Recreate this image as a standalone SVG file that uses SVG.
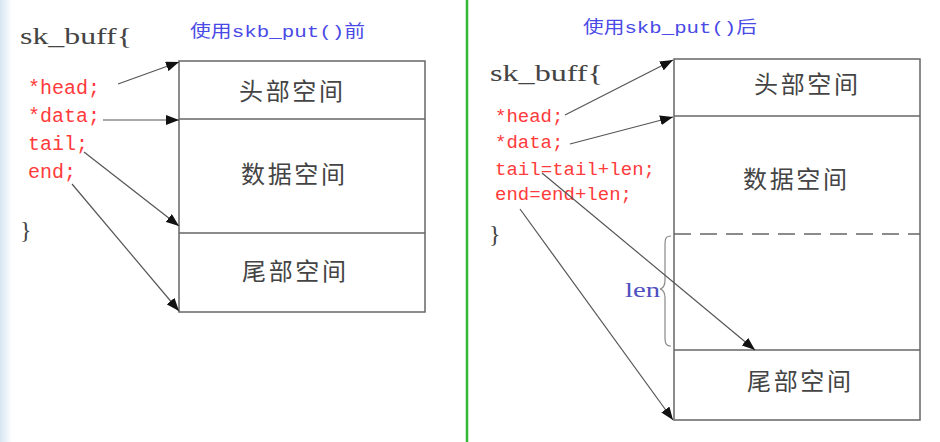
<svg xmlns="http://www.w3.org/2000/svg" width="940" height="442" viewBox="0 0 940 442">
<defs>
<linearGradient id="edge" x1="0" y1="0" x2="1" y2="0">
<stop offset="0" stop-color="#d6e6f2"/>
<stop offset="1" stop-color="#ffffff"/>
</linearGradient>
<marker id="ah" markerUnits="userSpaceOnUse" markerWidth="14" markerHeight="10" refX="13" refY="5" orient="auto">
<path d="M0,0 L13,5 L0,10 z" fill="#111"/>
</marker>
<style>
.box{fill:#fff;stroke:#666;stroke-width:1.5}
.div{stroke:#666;stroke-width:1.5;fill:none}
.dash{stroke:#666;stroke-width:1.5;stroke-dasharray:17 9;fill:none}
.lbl{font-family:"Noto Sans CJK SC",sans-serif;font-size:24px;fill:#444}
.code{font-family:"Liberation Mono","DejaVu Sans Mono",monospace;fill:#ff3b3b}
.struct{font-family:"Liberation Serif",serif;font-size:24px;fill:#444}
.title{font-family:"Liberation Mono","Noto Sans CJK SC",monospace;font-size:17px;fill:#4a4ae6}
.conn line{stroke:#555;stroke-width:1.2;marker-end:url(#ah)}
</style>
</defs>
<rect x="0" y="0" width="940" height="442" fill="#fff"/>
<rect x="0" y="0" width="12" height="442" fill="url(#edge)"/>
<line x1="467" y1="0" x2="467" y2="442" stroke="#33b833" stroke-width="2.5"/>

<g id="left-panel">
<text class="title" x="190" y="37" textLength="175" lengthAdjust="spacingAndGlyphs">使用skb_put()前</text>
<text class="struct" x="20" y="44" textLength="112" lengthAdjust="spacingAndGlyphs">sk_buff{</text>
<text class="code" x="28" y="94" font-size="20">*head;</text>
<text class="code" x="28" y="122" font-size="20">*data;</text>
<text class="code" x="28" y="150" font-size="20">tail;</text>
<text class="code" x="28" y="178" font-size="20">end;</text>
<text class="struct" x="20" y="238">}</text>
</g>

<g id="left-buffer">
<rect class="box" x="179" y="61" width="246" height="251"/>
<line class="div" x1="179" y1="119" x2="425" y2="119"/>
<line class="div" x1="179" y1="233" x2="425" y2="233"/>
<text class="lbl" x="239" y="100" textLength="104" lengthAdjust="spacing">头部空间</text>
<text class="lbl" x="241" y="183" textLength="104" lengthAdjust="spacing">数据空间</text>
<text class="lbl" x="242" y="280" textLength="104" lengthAdjust="spacing">尾部空间</text>
</g>

<g id="right-panel">
<text class="title" x="583" y="33" textLength="174" lengthAdjust="spacingAndGlyphs">使用skb_put()后</text>
<text class="struct" x="490" y="81" textLength="113" lengthAdjust="spacingAndGlyphs">sk_buff{</text>
<text class="code" x="495" y="122" font-size="19">*head;</text>
<text class="code" x="495" y="148" font-size="19">*data;</text>
<text class="code" x="495" y="175" font-size="19" textLength="160" lengthAdjust="spacing">tail=tail+len;</text>
<text class="code" x="495" y="200" font-size="19" textLength="137" lengthAdjust="spacing">end=end+len;</text>
<text class="struct" x="489" y="242">}</text>
</g>

<g id="right-buffer">
<rect class="box" x="674" y="59" width="246" height="361"/>
<line class="div" x1="674" y1="116" x2="920" y2="116"/>
<line class="dash" x1="674" y1="234" x2="920" y2="234"/>
<line class="div" x1="674" y1="350" x2="920" y2="350"/>
<text class="lbl" x="754" y="93" textLength="104" lengthAdjust="spacing">头部空间</text>
<text class="lbl" x="743" y="188" textLength="104" lengthAdjust="spacing">数据空间</text>
<text class="lbl" x="747" y="390" textLength="104" lengthAdjust="spacing">尾部空间</text>
</g>

<g id="len-brace">
<path d="M671,236 C665,236 665,240 665,246 L665,280 C665,285 664,288 660,289 C664,290 665,293 665,298 L665,336 C665,342 665,346 671,346" fill="none" stroke="#888" stroke-width="1.2"/>
<text x="625" y="297" font-family="Liberation Serif,serif" font-size="21" fill="#5050c0" textLength="35" lengthAdjust="spacingAndGlyphs">len</text>
</g>

<g id="connectors" class="conn">
<line x1="118" y1="84" x2="179" y2="62"/>
<line x1="103" y1="120" x2="179" y2="120"/>
<line x1="84" y1="152" x2="179" y2="226"/>
<line x1="72" y1="184" x2="179" y2="311"/>
<line x1="565" y1="115" x2="673" y2="60"/>
<line x1="570" y1="144" x2="673" y2="117"/>
<line x1="542" y1="173" x2="755" y2="350"/>
<line x1="520" y1="209" x2="673" y2="420"/>
</g>
</svg>
